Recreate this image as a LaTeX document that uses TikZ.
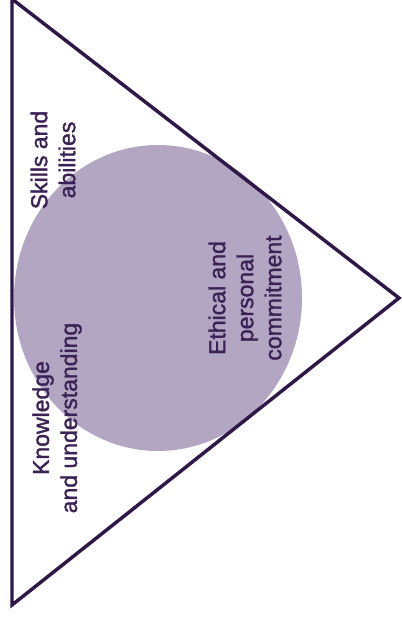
\documentclass[tikz,border=0pt]{standalone}
\usepackage{fontspec}
\setmainfont{Liberation Sans}
\newfontfamily\labelfont[BoldFont=Liberation Sans, BoldFeatures={FakeBold=1.5}]{Liberation Sans}
\definecolor{linepurple}{RGB}{46,24,72}
\definecolor{textpurple}{RGB}{58,34,85}
\definecolor{circlefill}{RGB}{179,166,194}
\begin{document}
\begin{tikzpicture}[x=0.75pt, y=-0.75pt,
  edge/.style={draw=linepurple, line width=2.6pt, line join=miter},
  areatext/.style={rotate=90, align=center, text=textpurple, inner sep=0pt,
    font=\labelfont\bfseries\fontsize{17.25}{21}\selectfont}]

% Controls
\def\cx{158}
\def\cy{298}

\useasboundingbox (0,0) rectangle (401,618);

% Circle behind the triangle
\fill[circlefill] (\cx,\cy) ellipse [x radius=108pt, y radius=114.75pt];

% Triangle
\coordinate (top) at (12,-1);
\coordinate (bottom) at (12,605);
\coordinate (apex) at (399,298);
\draw[edge] (top) -- (bottom) -- (apex) -- cycle;

% Labels
\node[areatext] (skills) at (53,160) {Skills and\\abilities};
\node[areatext] (knowledge) at (57,418) {Knowledge\\and understanding};
\node[areatext] (ethical) at (245,298) {Ethical and\\personal\\commitment};

\end{tikzpicture}
\end{document}
